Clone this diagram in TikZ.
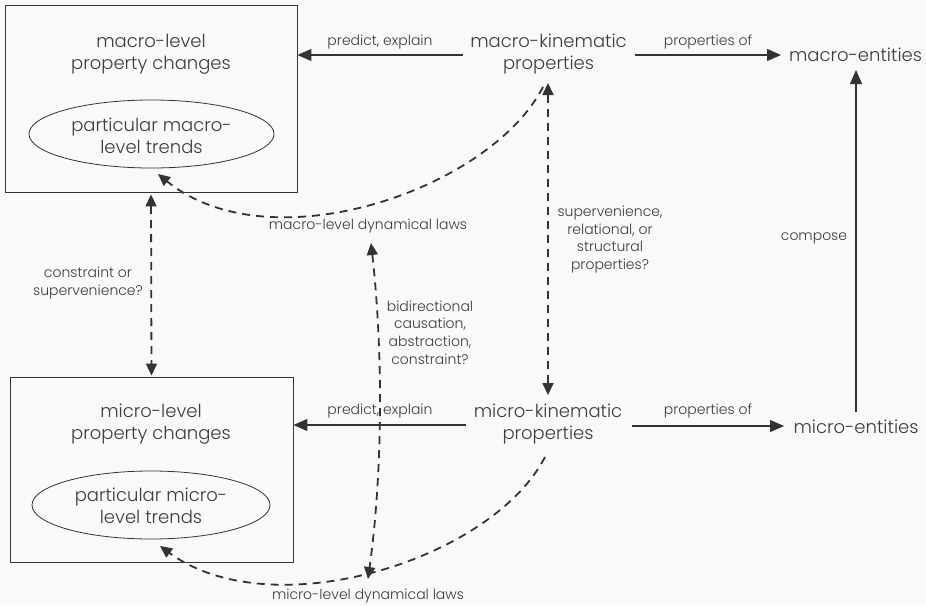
\documentclass[tikz,border=0pt]{standalone}
\usepackage{fontspec}
\setmainfont{Poppins}[UprightFont=* Light]
\usetikzlibrary{arrows.meta,shapes.geometric,calc}
\definecolor{bg}{RGB}{249,249,249}
\definecolor{ink}{RGB}{60,60,60}
\definecolor{ln}{RGB}{51,51,51}
\begin{document}
\begin{tikzpicture}[x=1pt,y=-1pt,
  big/.style={font=\fontsize{18}{22}\selectfont, text=ink, align=center, inner sep=0pt},
  small/.style={font=\fontsize{14}{17.6}\selectfont, text=ink, align=center, inner sep=0pt},
  frame/.style={draw=ln, line width=0.9pt, inner sep=0pt},
  oval/.style={ellipse, draw=ln, line width=0.8pt, inner sep=0pt},
  solidarr/.style={draw=ln, line width=1.2pt, -{Triangle[length=14pt,width=12pt]}},
  dashone/.style={draw=ln, line width=1.8pt, dash pattern=on 8pt off 6pt, -{Triangle[length=12pt,width=11pt]}},
  dashtwo/.style={draw=ln, line width=1.8pt, dash pattern=on 8pt off 6pt, {Triangle[length=12pt,width=11pt]}-{Triangle[length=12pt,width=11pt]}}
]
\fill[bg] (0,0) rectangle (926,605);
\useasboundingbox (0,0) rectangle (926,605);

% boxes
\node[frame, minimum width=292pt, minimum height=187pt] (boxT) at (151,98.5) {};
\node[frame, minimum width=283pt, minimum height=185pt] (boxB) at (151.5,469.5) {};
\node[big] (pcT) at (151,54) {macro-level\\property changes};
\node[big] (pcB) at (151,424.5) {micro-level\\property changes};
\node[oval, minimum width=245pt, minimum height=68pt] (elT) at (151.5,134) {};
\node[oval, minimum width=238pt, minimum height=68pt] (elB) at (151,505) {};
\node[big] (trT) at (151.5,136) {particular macro-\\level trends};
\node[big] (trB) at (151,505.5) {particular micro-\\level trends};

% kinematic and entities
\node[big] (mk) at (548.5,54) {macro-kinematic\\properties};
\node[big] (mik) at (548,424.5) {micro-kinematic\\properties};
\node[big] (me) at (855.5,55) {macro-entities};
\node[big] (mie) at (856,427) {micro-entities};

% labels
\node[small] (lpT) at (380,42) {predict, explain};
\node[small] (lpB) at (380,411) {predict, explain};
\node[small] (lqT) at (708,42) {properties of};
\node[small] (lqB) at (708,411) {properties of};
\node[small] (lc) at (814,238) {compose};
\node[small] (ls) at (610,239.5) {supervenience,\\relational, or\\structural\\properties?};
\node[small] (lk) at (88,283) {constraint or\\supervenience?};
\node[small] (lb) at (430,332.5) {bidirectional\\causation,\\abstraction,\\constraint?};
\node[small] (ldT) at (368,226) {macro-level dynamical laws};
\node[small] (ldB) at (368,596) {micro-level dynamical laws};

% connector end points
\coordinate (pT) at (463,55);
\coordinate (pB) at (466,425);
\coordinate (qTs) at (635,55);
\coordinate (qTe) at (781,55);
\coordinate (qBs) at (632,426);
\coordinate (qBe) at (784,426);
\coordinate (cS) at (856,412);
\coordinate (cE) at (856,70);
\coordinate (vT) at (548,83);
\coordinate (vB) at (548,395);
\coordinate (bdT) at (371,243);
\coordinate (bdB) at (368,579);
\coordinate (dTs) at (543,87);
\coordinate (dTe) at (158,174);
\coordinate (dBs) at (545,457);
\coordinate (dBe) at (160,546);

% solid arrows
\draw[solidarr] (pT) -- (boxT.east |- pT);
\draw[solidarr] (pB) -- (boxB.east |- pB);
\draw[solidarr] (qTs) -- (qTe);
\draw[solidarr] (qBs) -- (qBe);
\draw[solidarr] (cS) -- (cE);

% dashed arrows
\draw[dashtwo] (vT) -- (vB);
\draw[dashtwo, shorten <=2pt, shorten >=1pt] (boxT.south) -- (boxB.north);
\draw[dashtwo] (bdT) .. controls (383,350) and (383,470) .. (bdB);
\draw[dashone] (dTs) .. controls (490,190) and (270,265) .. (dTe);
\draw[dashone] (dBs) .. controls (492,560) and (272,628) .. (dBe);
\end{tikzpicture}
\end{document}
